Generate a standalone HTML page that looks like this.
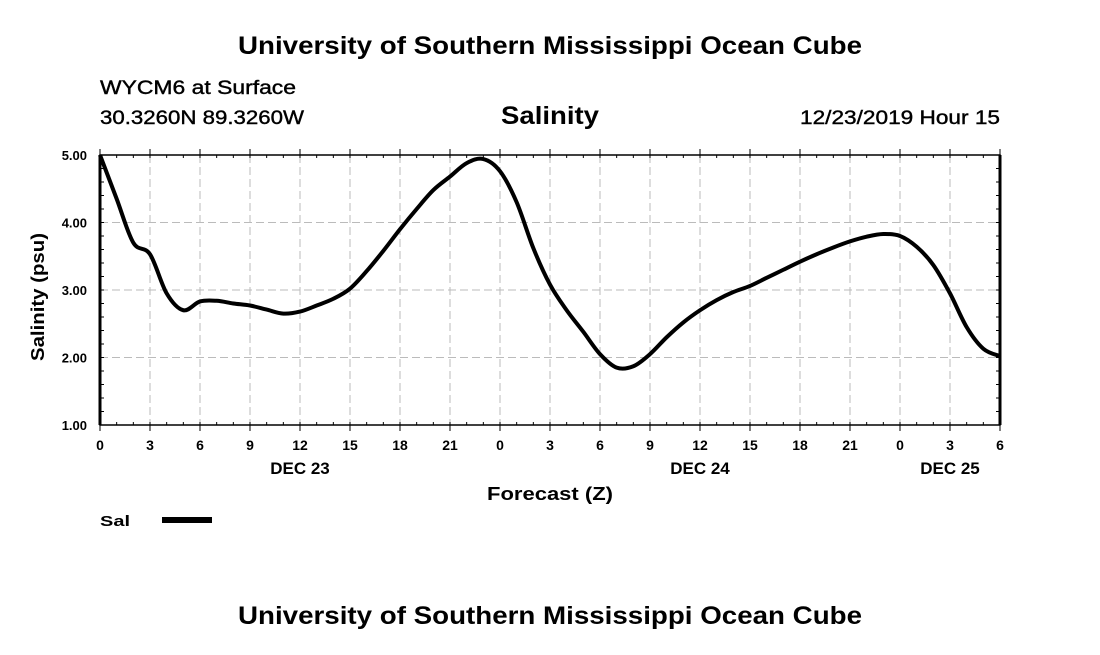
<!DOCTYPE html>
<html><head><meta charset="utf-8"><style>
body{margin:0;background:#fff;width:1100px;height:650px;overflow:hidden;font-family:"Liberation Sans",sans-serif}
</style></head><body>
<svg id="chart" width="1100" height="650" xmlns="http://www.w3.org/2000/svg" font-family="Liberation Sans, sans-serif">
<text x="238" y="54" font-size="25" font-weight="bold" textLength="624" lengthAdjust="spacingAndGlyphs">University of Southern Mississippi Ocean Cube</text>
<text x="100" y="94" font-size="19" stroke="#000" stroke-width="0.4" textLength="196" lengthAdjust="spacingAndGlyphs">WYCM6 at Surface</text>
<text x="100" y="124" font-size="19" stroke="#000" stroke-width="0.4" textLength="204" lengthAdjust="spacingAndGlyphs">30.3260N 89.3260W</text>
<text x="501" y="124" font-size="25" font-weight="bold" textLength="98" lengthAdjust="spacingAndGlyphs">Salinity</text>
<text x="800" y="124" font-size="19" stroke="#000" stroke-width="0.4" textLength="200" lengthAdjust="spacingAndGlyphs">12/23/2019 Hour 15</text>
<g id="grid"></g>
<g id="axes"></g>
<g id="series"></g>
<text transform="translate(44,361) rotate(-90)" font-size="18" font-weight="bold" textLength="128" lengthAdjust="spacingAndGlyphs">Salinity (psu)</text>
<text x="487" y="500" font-size="18" font-weight="bold" textLength="126" lengthAdjust="spacingAndGlyphs">Forecast (Z)</text>
<text x="100" y="526" font-size="15" font-weight="bold" textLength="30" lengthAdjust="spacingAndGlyphs">Sal</text>
<line x1="162" y1="520" x2="212" y2="520" stroke="#000" stroke-width="6"/>
<text x="238" y="624" font-size="25" font-weight="bold" textLength="624" lengthAdjust="spacingAndGlyphs">University of Southern Mississippi Ocean Cube</text>
</svg>
<script>
const hours=[0,1,2,3,4,5,6,7,8,9,10,11,12,13,14,15,16,17,18,19,20,21,22,23,24,25,26,27,28,29,30,31,32,33,34,35,36,37,38,39,40,41,42,43,44,45,46,47,48,49,50,51,52,53,54];
const salinity=[5.00,4.35,3.70,3.53,2.95,2.70,2.83,2.84,2.80,2.77,2.71,2.65,2.68,2.77,2.87,3.02,3.28,3.58,3.90,4.20,4.48,4.68,4.88,4.94,4.76,4.30,3.62,3.08,2.70,2.38,2.05,1.85,1.87,2.05,2.30,2.52,2.70,2.85,2.97,3.06,3.18,3.30,3.42,3.53,3.63,3.72,3.79,3.83,3.80,3.64,3.37,2.95,2.45,2.13,2.02];
const yTicks=[1,2,3,4,5];
const yTickLabels=["1.00","2.00","3.00","4.00","5.00"];
const xTickHours=[0,3,6,9,12,15,18,21,24,27,30,33,36,39,42,45,48,51,54];
const xTickLabels=["0","3","6","9","12","15","18","21","0","3","6","9","12","15","18","21","0","3","6"];
const dayHours=[12,36,51];
const dayLabels=["DEC 23","DEC 24","DEC 25"];
const X0=100,X1=1000,Y0=425,Y1=155;
const xs=h=>X0+(h/54)*(X1-X0);
const ys=v=>Y0-(v-1)/4*(Y0-Y1);
const NS="http://www.w3.org/2000/svg";
function mk(t,a,p){const e=document.createElementNS(NS,t);for(const k in a)e.setAttribute(k,a[k]);p.appendChild(e);return e;}
const grid=document.getElementById('grid'),axes=document.getElementById('axes'),series=document.getElementById('series');
yTicks.forEach((v,i)=>{
  if(v>1&&v<5){const g=mk('line',{x1:X0,x2:X1,y1:ys(v),y2:ys(v),stroke:'#bbb','stroke-dasharray':'8,4'},grid);
  
  }
  const t=mk('text',{x:X0-13,y:ys(v)+5,'font-size':13,'font-weight':'bold','text-anchor':'end'},axes);t.textContent=yTickLabels[i];
  
  
});
for(let v=1;v<=5.001;v+=0.2){mk('line',{x1:X0,x2:X0+4,y1:ys(v),y2:ys(v),stroke:'#000'},axes);mk('line',{x1:X1,x2:X1-4,y1:ys(v),y2:ys(v),stroke:'#000'},axes);}
for(let h=0;h<=54;h++){mk('line',{x1:xs(h),x2:xs(h),y1:Y0,y2:Y0-3,stroke:'#000'},axes);mk('line',{x1:xs(h),x2:xs(h),y1:Y1,y2:Y1+3,stroke:'#000'},axes);}
xTickHours.forEach((h,i)=>{
  if(h>0&&h<54){const g=mk('line',{x1:xs(h),x2:xs(h),y1:Y1,y2:Y0,stroke:'#bbb','stroke-dasharray':'8,4'},grid);
  
  }
  mk('line',{x1:xs(h),x2:xs(h),y1:Y0,y2:Y0+6,stroke:'#000'},axes);
  mk('line',{x1:xs(h),x2:xs(h),y1:Y1,y2:Y1-6,stroke:'#000'},axes);
  const t=mk('text',{x:xs(h),y:Y0+25,'font-size':14,'font-weight':'bold','text-anchor':'middle'},axes);t.textContent=xTickLabels[i];
  
  
});
dayHours.forEach((h,i)=>{
  const t=mk('text',{x:xs(h),y:Y0+49,'font-size':17,'font-weight':'bold','text-anchor':'middle'},axes);t.textContent=dayLabels[i];
  
  
});
const fr=mk('rect',{x:X0,y:Y1,width:X1-X0,height:Y0-Y1,fill:'none',stroke:'#000','stroke-width':1.5},axes);


mk('line',{x1:X0,x2:X0,y1:Y1,y2:Y0,stroke:'#000','stroke-width':3},axes);
mk('line',{x1:X1,x2:X1,y1:Y1,y2:Y0,stroke:'#000','stroke-width':3},axes);
const P=hours.map((h,i)=>[xs(h),ys(salinity[i])]);
let d='M'+P[0][0]+','+P[0][1];
for(let i=0;i<P.length-1;i++){const p0=P[Math.max(i-1,0)],p1=P[i],p2=P[i+1],p3=P[Math.min(i+2,P.length-1)];
d+=` C${p1[0]+(p2[0]-p0[0])/6},${p1[1]+(p2[1]-p0[1])/6} ${p2[0]-(p3[0]-p1[0])/6},${p2[1]-(p3[1]-p1[1])/6} ${p2[0]},${p2[1]}`;}
const ln=mk('path',{d:d,fill:'none',stroke:'#000','stroke-width':4,'stroke-linejoin':'round'},series);


</script>
</body></html>
